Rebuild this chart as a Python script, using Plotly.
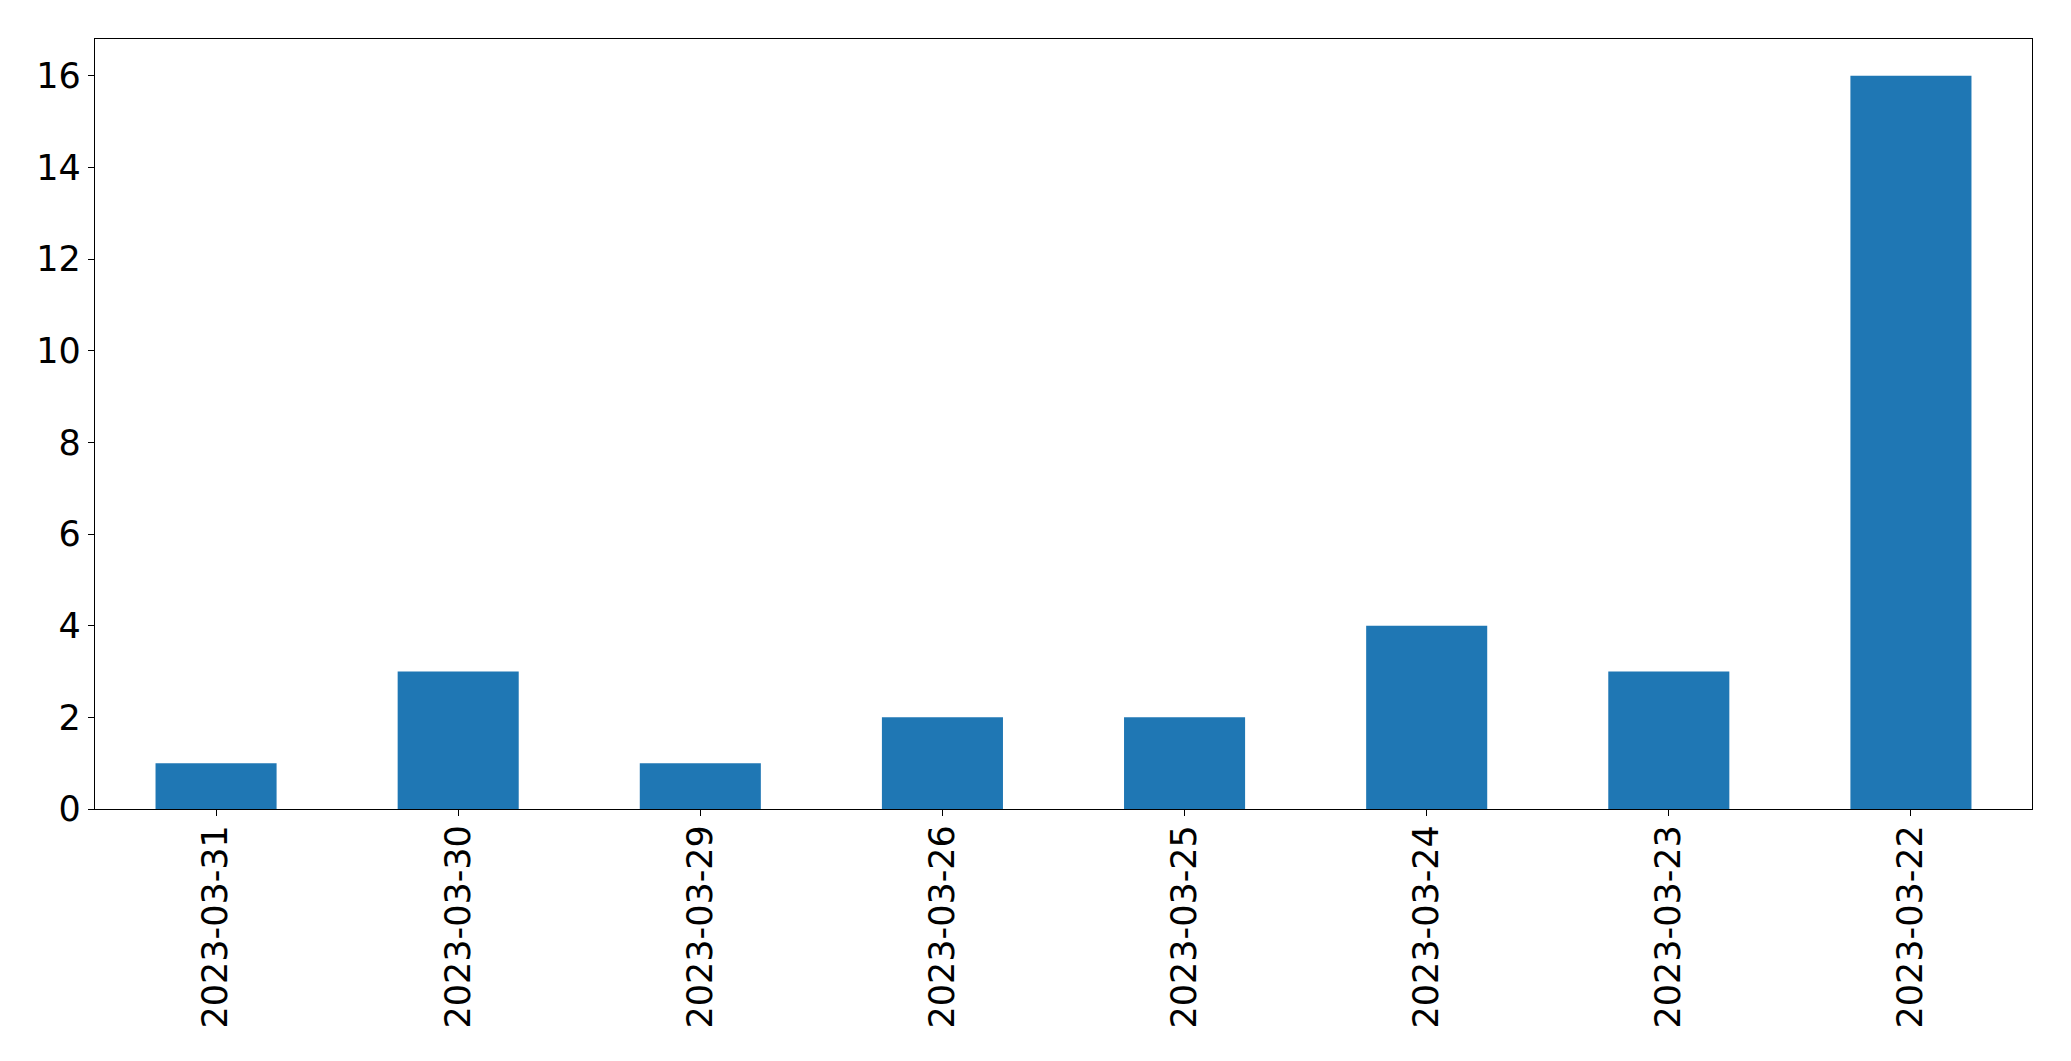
import plotly.graph_objects as go

categories = ["2023-03-31", "2023-03-30", "2023-03-29", "2023-03-26",
              "2023-03-25", "2023-03-24", "2023-03-23", "2023-03-22"]
values = [1, 3, 1, 2, 2, 4, 3, 16]
y_ticks = [0, 2, 4, 6, 8, 10, 12, 14, 16]

fig = go.Figure(go.Bar(x=categories, y=values, width=0.5,
                       marker=dict(color="#1f77b4", line=dict(width=0))))

axis_common = dict(showline=True, mirror=True, linecolor="black", linewidth=1.3,
                   ticks="outside", ticklen=6, tickwidth=1.3, tickcolor="black",
                   showgrid=False, zeroline=False,
                   tickfont=dict(family="DejaVu Sans", size=35, color="black"))

fig.update_layout(
    width=2063, height=1053,
    margin=dict(l=87, r=39, t=31, b=252, autoexpand=False),
    plot_bgcolor="white", paper_bgcolor="white",
    showlegend=False,
    xaxis=dict(type="category", range=[-0.5, 7.5], tickangle=-90,
               ticklabelstandoff=-5, **axis_common),
    yaxis=dict(range=[0, 16.8], tickvals=y_ticks, **axis_common),
)

fig.write_html("out.html")
